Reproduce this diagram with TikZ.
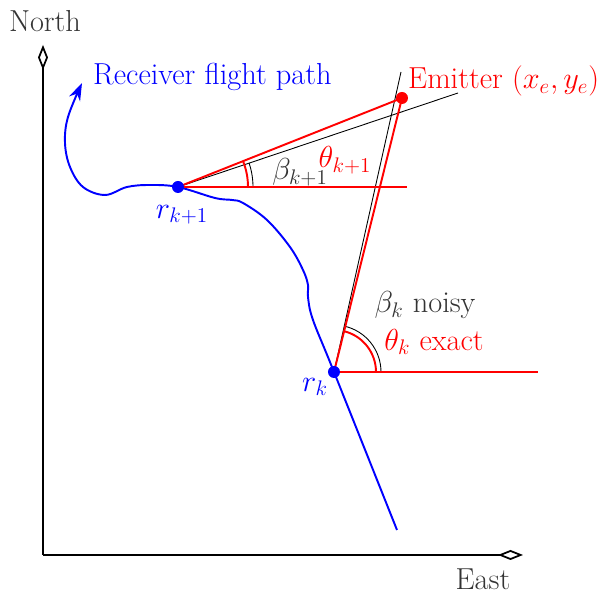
\documentclass[tikz,border=0pt]{standalone}
\usepackage{amsmath,amssymb}
\usepackage{tikz}
\usetikzlibrary{arrows.meta,positioning,calc}

\begin{document}
\begin{tikzpicture}[
    % --- Styles ---
    axis/.style={line width=1pt, -{Diamond[open, length=5mm, width=2mm]}},
    note/.style={font=\LARGE},
    lbl/.style={note, text=black!80},
    exact/.style={red, line width=1.1pt},
    noisy/.style={black, line width=0.5pt},
    flight/.style={blue, line width=1.1pt},
    dot/.style={circle, fill, inner sep=0pt, minimum size=2.4mm},
]
\useasboundingbox (0,0) rectangle (12.08,11.84);

% === Axes ===
\coordinate (O) at (0.86,0.74);
\coordinate (ntip) at (0.86,10.94);
\coordinate (etip) at (10.46,0.74);
\draw[axis] (O) -- (ntip);
\draw[axis] (O) -- (etip);
\node[lbl] (north) at (0.90,11.42) {North};
\node[lbl, inner sep=1pt] (east) at (9.66,0.26) {East};

% === Positions ===
\coordinate (rk)  at (6.68,4.40);
\coordinate (rk1) at (3.56,8.10);
\coordinate (em)  at (8.04,9.88);
\coordinate (bk1) at (9.16,9.98);
\coordinate (bk)  at (8.02,10.40);
\coordinate (hk1) at (8.14,8.10);
\coordinate (hk)  at (10.76,4.40);

% === Receiver flight path ===
\draw[flight, -{Stealth[length=3.5mm, width=2.4mm]}] plot[smooth, tension=0.6] coordinates {
    (7.94,1.24) (rk) (6.26,5.44) (6.16,5.90) (6.16,6.14) (6.06,6.44)
    (5.80,6.90) (5.34,7.44) (4.86,7.78) (4.64,7.84) (4.30,7.88) (rk1)
    (3.00,8.14) (2.54,8.10) (2.10,7.94) (1.66,8.10) (1.40,8.50)
    (1.30,8.98) (1.36,9.50) (1.64,10.18)};
\node[note, blue, anchor=west] (fpath) at (1.74,10.30) {Receiver flight path};

% === Noisy bearings (black) ===
\draw[noisy] (rk1) -- (bk1);
\draw[noisy] (rk) -- (bk);
\draw[noisy] (rk1) -- (hk1);
\draw[noisy] (rk) -- (hk);
\draw[noisy] ([shift={(0:1.5)}]rk1) arc (0:18.56:1.5);
\draw[noisy] ([shift={(0:0.94)}]rk) arc (0:77.41:0.94);

% === Exact bearings (red) ===
\draw[exact] (rk1) -- (em);
\draw[exact] (rk) -- (em);
\draw[exact] (rk1) -- (hk1);
\draw[exact] (rk) -- (hk);
\draw[exact] ([shift={(0:1.4)}]rk1) arc (0:21.67:1.4);
\draw[exact] ([shift={(0:0.84)}]rk) arc (0:76.06:0.84);

% === Points ===
\node[dot, blue] (rk1dot) at (rk1) {};
\node[dot, blue] (rkdot) at (rk) {};
\node[dot, red] (emdot) at (em) {};

% === Labels ===
\node[note, blue] (rk1lbl) at (3.64,7.54) {$r_{k+1}$};
\node[note, blue] (rklbl) at (6.30,4.10) {$r_k$};
\node[note, red, anchor=west] (emlbl) at (8.04,10.22) {Emitter $(x_e,y_e)$};
\node[lbl] (betak1) at (6.00,8.40) {$\beta_{k+1}$};
\node[note, red] (thetak1) at (6.90,8.64) {$\theta_{k+1}$};
\node[lbl] (betak) at (8.50,5.74) {$\beta_k$ noisy};
\node[note, red] (thetak) at (8.68,5.00) {$\theta_k$ exact};

\end{tikzpicture}
\end{document}
